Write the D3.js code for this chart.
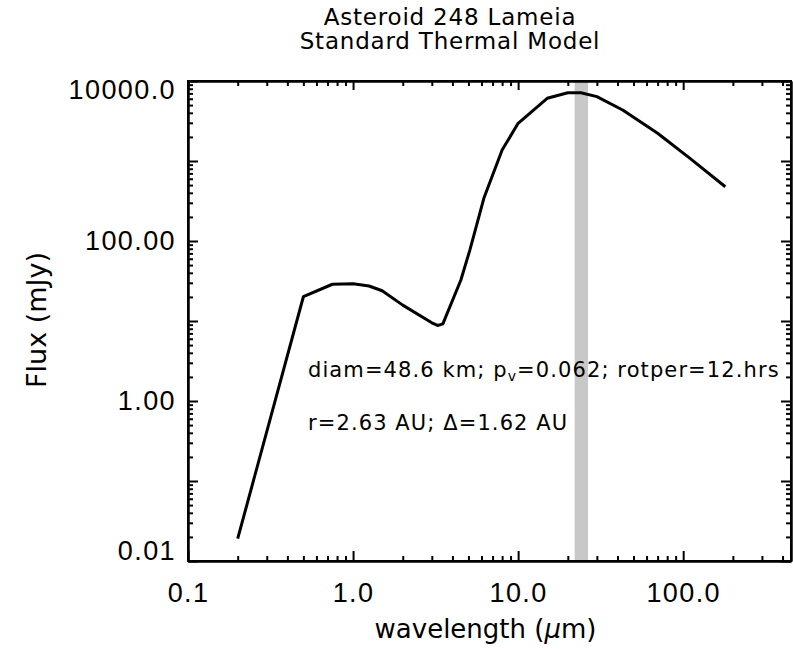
<!DOCTYPE html>
<html>
<head>
<meta charset="utf-8">
<script src="https://cdn.jsdelivr.net/npm/d3@7"></script>
<style>
    body { margin: 0; background: #fff; }
    svg { display: block; font-family: 'DejaVu Sans', sans-serif; }
    .axis path, .axis line { stroke: #000; stroke-width: 2; }
    .axis text { font-size: 27px; fill: #000; letter-spacing: 1.4px; }
    .note { font-size: 21px; letter-spacing: 1.1px; }
</style>
</head>
<body>
<div id="sed-chart"></div>
<script>
// model SED points
const wavelengths = [0.2, 0.5, 0.75, 1.0, 1.25, 1.5, 2.0, 3.0, 3.25, 3.5, 4.5, 5.1, 6.2, 8.0, 10.0, 15.0, 20.0, 24.0, 30.0, 43.0, 70.0, 110.0, 180.0];
const fluxes = [0.019, 20.1, 28.8, 29.3, 27.4, 23.9, 15.8, 9.5, 8.8, 9.2, 32.5, 77, 342, 1370, 2960, 6080, 7140, 7140, 6370, 4340, 2220, 1080, 477];

const bandRange = [22, 26.5];

const xTickValues = [0.1, 1, 10, 100];
const xTickLabels = ['0.1', '1.0', '10.0', '100.0'];
const yTickValues = [0.01, 1, 100, 10000];
const yTickLabels = ['0.01', '1.00', '100.00', '10000.0'];

const titleLines = ['Asteroid 248 Lameia', 'Standard Thermal Model'];
const xTitle = 'wavelength (';
const yTitle = 'Flux (mJy)';

(function () {
    'use strict';

    const margin = { top: 81, right: 2, bottom: 88, left: 188 };
    const W = 793, H = 649;
    const width = W - margin.left - margin.right;
    const height = H - margin.top - margin.bottom;

    const xScale = d3.scaleLog().domain([0.1, 450]).range([0, width]);
    const yScale = d3.scaleLog().domain([0.01, 10000]).range([height, 0]);

    const svg = d3.select('#sed-chart').append('svg')
        .attr('width', W).attr('height', H);

    const g = svg.append('g')
        .attr('transform', 'translate(' + margin.left + ',' + margin.top + ')');

    // grey filter band
    g.append('rect')
        .attr('x', xScale(bandRange[0]))
        .attr('y', 0)
        .attr('width', xScale(bandRange[1]) - xScale(bandRange[0]))
        .attr('height', height)
        .style('fill', '#c8c8c8');

    // decade and minor tick values
    function logTicks(lo, hi) {
        const major = [], minor = [];
        for (let e = Math.floor(Math.log10(lo)); e <= Math.ceil(Math.log10(hi)); e++) {
            for (let m = 1; m < 10; m++) {
                const v = m * Math.pow(10, e);
                if (v < lo * 0.999 || v > hi * 1.001) continue;
                (m === 1 ? major : minor).push(v);
            }
        }
        return { major: major, minor: minor };
    }
    const xt = logTicks(0.1, 450);
    const yt = logTicks(0.01, 10000);

    // minor ticks first
    g.append('g').attr('class', 'axis').attr('transform', 'translate(0,' + height + ')')
        .call(d3.axisBottom(xScale).tickValues(xt.minor).tickSize(-5).tickFormat('').tickSizeOuter(0));
    g.append('g').attr('class', 'axis')
        .call(d3.axisTop(xScale).tickValues(xt.minor).tickSize(-5).tickFormat('').tickSizeOuter(0));
    g.append('g').attr('class', 'axis')
        .call(d3.axisLeft(yScale).tickValues(yt.minor).tickSize(-5).tickFormat('').tickSizeOuter(0));
    g.append('g').attr('class', 'axis').attr('transform', 'translate(' + width + ',0)')
        .call(d3.axisRight(yScale).tickValues(yt.minor).tickSize(-5).tickFormat('').tickSizeOuter(0));

    // major ticks with labels
    g.append('g').attr('class', 'axis').attr('transform', 'translate(0,' + height + ')')
        .call(d3.axisBottom(xScale).tickValues(xt.major).tickSize(-10).tickSizeOuter(0).tickPadding(22)
            .tickFormat(function (d) {
                const i = xTickValues.findIndex(function (v) { return Math.abs(v - d) < d * 1e-6; });
                return i >= 0 ? xTickLabels[i] : '';
            }));
    g.append('g').attr('class', 'axis')
        .call(d3.axisTop(xScale).tickValues(xt.major).tickSize(-9).tickFormat('').tickSizeOuter(0));

    const yAxis = g.append('g').attr('class', 'axis')
        .call(d3.axisLeft(yScale).tickValues(yt.major).tickSize(-10).tickSizeOuter(0).tickPadding(12)
            .tickFormat(function (d) {
                const i = yTickValues.findIndex(function (v) { return Math.abs(v - d) < d * 1e-6; });
                return i >= 0 ? yTickLabels[i] : '';
            }));
    // end labels are pulled inside the axis range
    yAxis.selectAll('.tick text').attr('dy', function (d) {
        if (d >= 10000) return '0.66em';
        if (d <= 0.01) return '-0.05em';
        return '0.32em';
    });
    g.append('g').attr('class', 'axis').attr('transform', 'translate(' + width + ',0)')
        .call(d3.axisRight(yScale).tickValues(yt.major).tickSize(-10).tickFormat('').tickSizeOuter(0));

    // frame
    g.append('rect')
        .attr('width', width).attr('height', height)
        .style('fill', 'none').style('stroke', '#000').style('stroke-width', 2);

    // model curve
    const pts = wavelengths.map(function (w, i) { return [w, fluxes[i]]; });
    const line = d3.line()
        .x(function (d) { return xScale(d[0]); })
        .y(function (d) { return yScale(d[1]); });
    g.append('path').datum(pts)
        .attr('d', line)
        .style('fill', 'none').style('stroke', '#000').style('stroke-width', 3)
        .style('stroke-linejoin', 'round');

    // annotations
    const note1 = g.append('text').attr('class', 'note').attr('x', 120).attr('y', 296);
    note1.append('tspan').text('diam=48.6 km; p');
    note1.append('tspan').attr('dy', 4).style('font-size', '14px').text('v');
    note1.append('tspan').attr('dy', -4).text('=0.062; rotper=12.hrs');

    g.append('text').attr('class', 'note').attr('x', 120).attr('y', 349)
        .text('r=2.63 AU; \u0394=1.62 AU');

    // titles
    svg.selectAll('.title').data(titleLines).enter().append('text')
        .attr('class', 'title')
        .attr('x', 450)
        .attr('y', function (d, i) { return 25 + i * 24; })
        .style('text-anchor', 'middle').style('font-size', '23px').style('letter-spacing', '0.8px')
        .text(function (d) { return d; });

    const xl = svg.append('text')
        .attr('x', margin.left + width / 2 - 4).attr('y', 638)
        .style('text-anchor', 'middle').style('font-size', '26px');
    xl.append('tspan').text(xTitle);
    xl.append('tspan').style('font-style', 'italic').text('\u03bc');
    xl.append('tspan').text('m)');

    svg.append('text')
        .attr('transform', 'translate(46,' + (margin.top + height / 2 - 1) + ') rotate(-90)')
        .style('text-anchor', 'middle').style('font-size', '27px')
        .text(yTitle);
}());
</script>
</body>
</html>
